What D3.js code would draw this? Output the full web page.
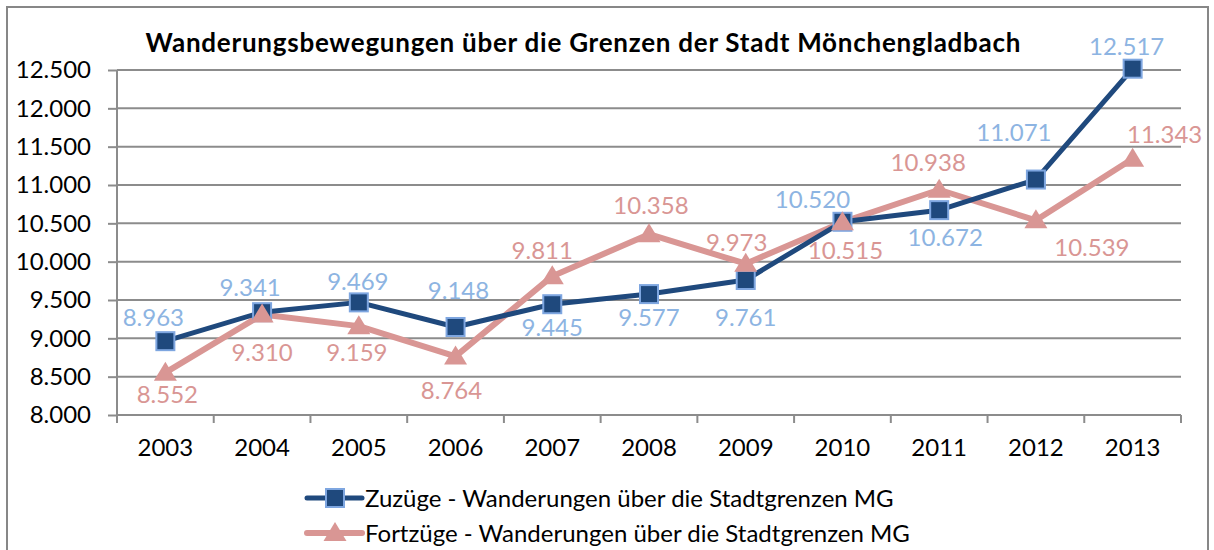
<!DOCTYPE html>
<html><head><meta charset="utf-8">
<script src="https://cdn.jsdelivr.net/npm/d3@7"></script>
<style>
html,body{margin:0;padding:0;background:#fff;}
svg text{font-family:Lato,"Open Sans",sans-serif;}
</style></head>
<body><svg id="chart" width="1214" height="550"></svg>
<script>
const title = "Wanderungsbewegungen über die Grenzen der Stadt Mönchengladbach";
const years = ["2003","2004","2005","2006","2007","2008","2009","2010","2011","2012","2013"];
const zuzuege = [8963, 9341, 9469, 9148, 9445, 9577, 9761, 10520, 10672, 11071, 12517];
const fortzuege = [8552, 9310, 9159, 8764, 9811, 10358, 9973, 10515, 10938, 10539, 11343];
const yTicks = [8000, 8500, 9000, 9500, 10000, 10500, 11000, 11500, 12000, 12500];
const seriesNames = ["Zuzüge - Wanderungen über die Stadtgrenzen MG", "Fortzüge - Wanderungen über die Stadtgrenzen MG"];
// label placement offsets (layout only)
const zuzLabelOff = [[-12,-24],[-12,-25],[-1,-21],[3,-37],[0,23],[0,23],[0,37],[-30,-22],[6,27],[-22,-47],[-6,-22]];
const fortLabelOff = [[2,22],[0,38],[-2,26],[-4,34],[-10,-26],[2,-29],[-9,-21],[3,28],[-11,-27],[56,27],[32,-24]];

const svg = d3.select("#chart");
const fmt = v => d3.format(",")(v).replace(/,/g, ".");

// outer frame
svg.append("rect").attr("x",7).attr("y",7).attr("width",1201).attr("height",560)
  .attr("fill","#fff").attr("stroke","#878787").attr("stroke-width",2);

const x = d3.scaleBand().domain(years).range([117,1181]);
const y = d3.scaleLinear().domain([8000,12500]).range([415,70]);

// gridlines
svg.append("g").selectAll("line").data(yTicks.slice(1)).join("line")
  .attr("x1",117).attr("x2",1181).attr("y1",d=>y(d)).attr("y2",d=>y(d))
  .attr("stroke","#8c8c8c").attr("stroke-width",2);

// y axis
const yAxis = svg.append("g").attr("transform","translate(117,0)")
  .call(d3.axisLeft(y).tickValues(yTicks).tickSize(9).tickPadding(17).tickFormat(fmt));
yAxis.select(".domain").attr("stroke","#8c8c8c").attr("stroke-width",2).attr("d","M0,70V415");
yAxis.selectAll(".tick line").attr("stroke","#8c8c8c").attr("stroke-width",2);
yAxis.selectAll("text").attr("font-size",24).attr("fill","#000").attr("font-family","Lato");

// x axis
const xAxis = svg.append("g").attr("transform","translate(0,415)")
  .call(d3.axisBottom(x).tickSize(0).tickPadding(24));
xAxis.select(".domain").attr("stroke","#8c8c8c").attr("stroke-width",2).attr("d","M117,0H1181");
xAxis.selectAll("text").attr("font-size",24).attr("fill","#000").attr("font-family","Lato");
// category boundary ticks
const bounds = years.map(d=>x(d)).concat([x(years[years.length-1])+x.bandwidth()]);
svg.append("g").selectAll("line").data(bounds).join("line")
  .attr("x1",d=>d).attr("x2",d=>d).attr("y1",415).attr("y2",423)
  .attr("stroke","#8c8c8c").attr("stroke-width",2);

const cx = (d,i)=>x(years[i])+x.bandwidth()/2;

const zuzCol = "#1F497D", zuzEdge = "#7EA6E0", zuzLab = "#8DB4E2";
const fortCol = "#D99694";

const line = d3.line().x((d,i)=>cx(d,i)).y(d=>y(d));

// Fortzüge line
svg.append("path").datum(fortzuege).attr("d",line).attr("fill","none")
  .attr("stroke",fortCol).attr("stroke-width",6).attr("stroke-linejoin","round");
// Zuzüge line
svg.append("path").datum(zuzuege).attr("d",line).attr("fill","none")
  .attr("stroke",zuzCol).attr("stroke-width",5).attr("stroke-linejoin","round");

// Zuzüge markers
svg.append("g").selectAll("rect").data(zuzuege).join("rect")
  .attr("x",(d,i)=>cx(d,i)-9).attr("y",d=>y(d)-9).attr("width",18).attr("height",18)
  .attr("fill",zuzCol).attr("stroke",zuzEdge).attr("stroke-width",2);
// Fortzüge markers
const tri = (px,py)=>`M${px},${py-11}L${px+11.5},${py+8}L${px-11.5},${py+8}Z`;
svg.append("g").selectAll("path").data(fortzuege).join("path")
  .attr("d",(d,i)=>tri(cx(d,i),y(d))).attr("fill",fortCol);

// labels
svg.append("g").selectAll("text").data(zuzuege).join("text")
  .attr("x",(d,i)=>cx(d,i)+zuzLabelOff[i][0]).attr("y",(d,i)=>y(d)+zuzLabelOff[i][1])
  .attr("dy","0.36em").attr("text-anchor","middle").attr("font-size",24)
  .attr("fill",zuzLab).text(fmt);
svg.append("g").selectAll("text").data(fortzuege).join("text")
  .attr("x",(d,i)=>cx(d,i)+fortLabelOff[i][0]).attr("y",(d,i)=>y(d)+fortLabelOff[i][1])
  .attr("dy","0.36em").attr("text-anchor","middle").attr("font-size",24)
  .attr("fill",fortCol).text(fmt);

// title
svg.append("text").attr("x",583).attr("y",52).attr("text-anchor","middle")
  .attr("font-size",26).attr("font-weight","bold").attr("fill","#000")
  .attr("textLength",875).attr("lengthAdjust","spacing").text(title);

// legend
const leg = svg.append("g");
const legRows = [498, 533];
const mx = 335;
leg.append("line").attr("x1",307).attr("x2",362).attr("y1",legRows[0]).attr("y2",legRows[0])
  .attr("stroke",zuzCol).attr("stroke-width",5).attr("stroke-linecap","round");
leg.append("rect").attr("x",mx-9).attr("y",legRows[0]-9).attr("width",18).attr("height",18)
  .attr("fill",zuzCol).attr("stroke",zuzEdge).attr("stroke-width",2);
leg.append("line").attr("x1",307).attr("x2",362).attr("y1",legRows[1]).attr("y2",legRows[1])
  .attr("stroke",fortCol).attr("stroke-width",6).attr("stroke-linecap","round");
leg.append("path").attr("d",tri(mx,legRows[1])).attr("fill",fortCol);
leg.selectAll("text").data(seriesNames).join("text")
  .attr("x",365).attr("y",(d,i)=>legRows[i]).attr("dy","0.36em")
  .attr("font-size",24).attr("fill","#000").text(d=>d);
</script></body></html>
